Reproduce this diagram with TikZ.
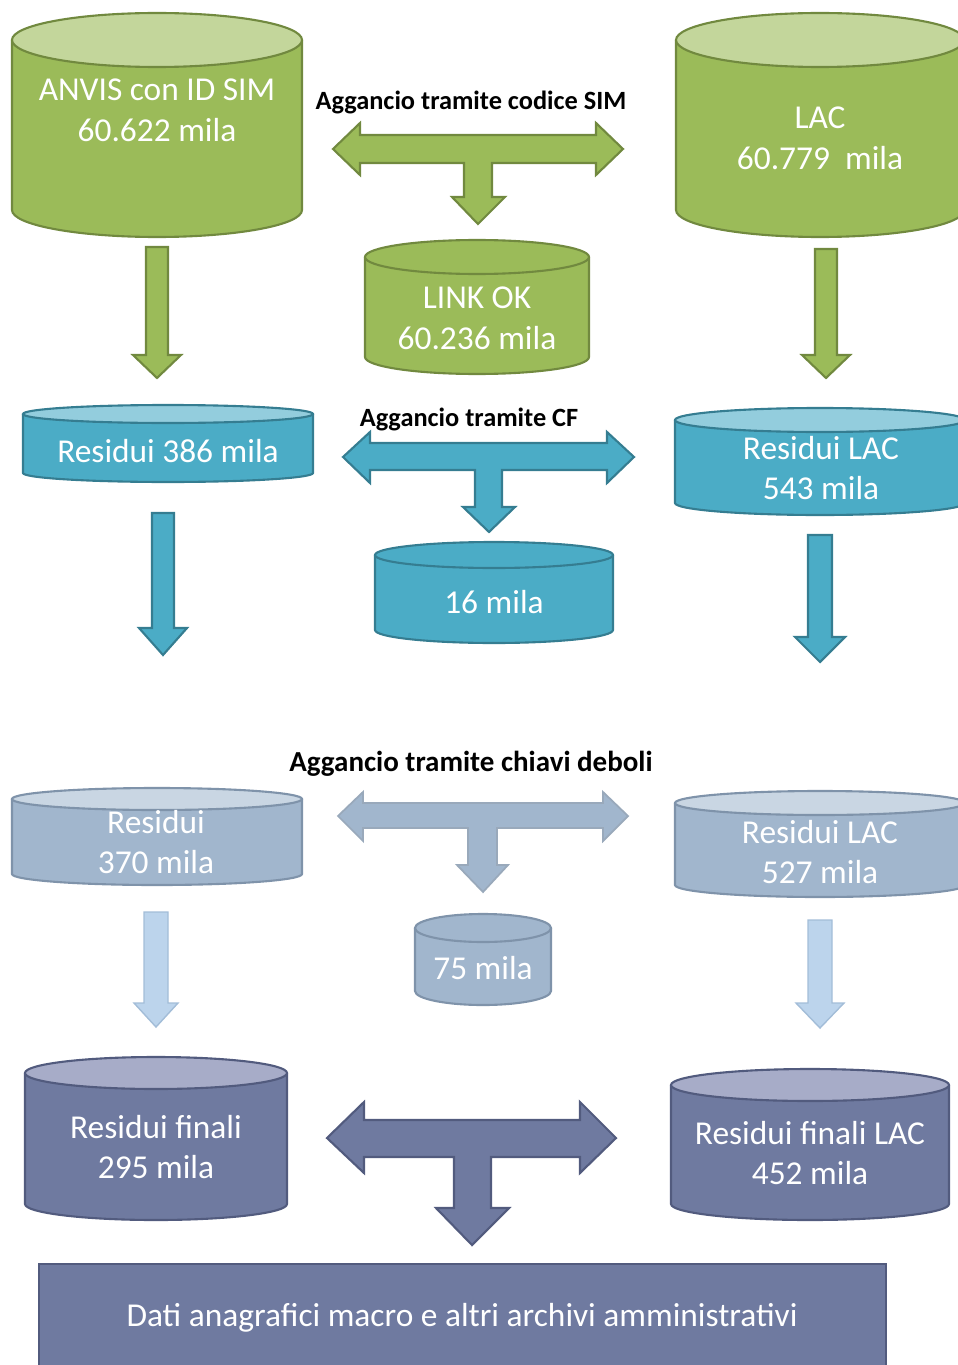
\documentclass[tikz,border=0pt]{standalone}
\usepackage{fontspec}
\setmainfont{Carlito}

\definecolor{grfill}{HTML}{9BBB59}
\definecolor{grline}{HTML}{71893F}
\definecolor{grtop}{HTML}{C3D69B}
\definecolor{blfill}{HTML}{4BACC6}
\definecolor{blline}{HTML}{357D91}
\definecolor{bltop}{HTML}{93CDDD}
\definecolor{gyfill}{HTML}{A1B6CD}
\definecolor{gyline}{HTML}{7F93AA}
\definecolor{gytop}{HTML}{C9D6E3}
\definecolor{ltfill}{HTML}{BCD4EC}
\definecolor{ltline}{HTML}{A3BDD8}
\definecolor{dkfill}{HTML}{6F7AA0}
\definecolor{dkline}{HTML}{525B7E}
\definecolor{dktop}{HTML}{A7ACC8}

% cylinder: cx, y top, y bottom, rx, ry, body, top, border
\newcommand{\dbcyl}[8]{%
  \fill[#6] (#1-#4,#2) rectangle (#1+#4,#3);
  \fill[#6] (#1,#3) ellipse [x radius=#4, y radius=#5];
  \draw[#8, line width=1.2pt] (#1-#4,#2) -- (#1-#4,#3) arc [start angle=180, end angle=0, x radius=#4, y radius=#5] -- (#1+#4,#2);
  \draw[#8, line width=1.2pt, fill=#7] (#1,#2) ellipse [x radius=#4, y radius=#5];
}
% block arrow down: cx, y top, y head, y tip, shaft half, head half
\newcommand{\dnarrow}[7]{%
  \draw[#7] (#1-#5,#2) -- (#1+#5,#2) -- (#1+#5,#3) -- (#1+#6,#3) -- (#1,#4) -- (#1-#6,#3) -- (#1-#5,#3) -- cycle;
}

\tikzset{
  db/.style={font=\fontsize{19}{23.2}\selectfont, text=white, align=center, inner sep=0pt},
  hook/.style={font=\bfseries\fontsize{15}{18}\selectfont, inner sep=0pt},
  greenarrow/.style={fill=grfill, draw=grline, line width=1.2pt},
  bluearrow/.style={fill=blfill, draw=blline, line width=1.2pt},
  greyarrow/.style={fill=gyfill, draw=gyline!80, line width=1pt},
  lightarrow/.style={fill=ltfill, draw=ltline, line width=0.8pt},
  darkarrow/.style={fill=dkfill, draw=dkline, line width=1.2pt}
}

\begin{document}
\begin{tikzpicture}[x=0.02cm, y=-0.02cm]
    \useasboundingbox (0,0) rectangle (957,1365);

    % green row
    \dbcyl{157}{40}{210}{145}{27}{grfill}{grtop}{grline}
    \dbcyl{820}{40}{210}{144}{27}{grfill}{grtop}{grline}
    \dbcyl{477}{257}{357}{112}{17}{grfill}{grfill}{grline}
    \node[db] (anvis) at (157,110) {ANVIS con ID SIM\\60.622 mila};
    \node[db] (lac) at (820,138) {LAC\\60.779\ \ mila};
    \node[db] (linkok) at (477,318) {LINK OK\\60.236 mila};
    \node[hook] (simlbl) at (471,102) {Aggancio tramite codice SIM};
    \draw[greenarrow] (333,149) -- (360,123) -- (360,135) -- (596,135) -- (596,123) -- (623,149) -- (596,175) -- (596,163) -- (492,163) -- (492,197) -- (505,197) -- (478,224) -- (452,197) -- (464,197) -- (464,163) -- (360,163) -- (360,175) -- cycle;
    \dnarrow{157}{247}{355}{378}{11}{24}{greenarrow}
    \dnarrow{826}{249}{355}{378}{11}{24}{greenarrow}

    % blue row
    \dbcyl{168}{414}{473}{145}{9}{blfill}{bltop}{blline}
    \dbcyl{820}{420}{503}{145}{12}{blfill}{bltop}{blline}
    \dbcyl{494}{555}{630}{119}{13}{blfill}{blfill}{blline}
    \node[db] (res386) at (168,451) {Residui 386 mila};
    \node[db] (res543) at (821,468) {Residui LAC\\543 mila};
    \node[db] (m16) at (494,602) {16 mila};
    \node[hook] (cflbl) at (469,419) {Aggancio tramite CF};
    \draw[bluearrow] (343,457) -- (370,432) -- (370,443) -- (607,443) -- (607,432) -- (634,457) -- (607,483) -- (607,470) -- (502,470) -- (502,507) -- (515,507) -- (489,532) -- (463,507) -- (475,507) -- (475,470) -- (370,470) -- (370,483) -- cycle;
    \dnarrow{163}{513}{628}{655}{11}{24}{bluearrow}
    \dnarrow{820}{535}{637}{662}{12}{25}{bluearrow}

    % grey row
    \dbcyl{157}{799}{874}{145}{11}{gyfill}{gytop}{gyline}
    \dbcyl{820}{803}{885}{145}{12}{gyfill}{gytop}{gyline}
    \dbcyl{483}{928}{991}{68}{14}{gyfill}{gyfill}{gyline}
    \node[db] (res370) at (156,842) {Residui\\370 mila};
    \node[db] (res527) at (820,852) {Residui LAC\\527 mila};
    \node[db] (m75) at (483,968) {75 mila};
    \node[hook, font=\bfseries\fontsize{16.5}{19}\selectfont] (deblbl) at (471,764) {Aggancio tramite chiavi deboli};
    \draw[greyarrow] (338,816) -- (363,792) -- (363,803) -- (603,803) -- (603,792) -- (628,816) -- (603,841) -- (603,828) -- (497,828) -- (497,865) -- (508,865) -- (483,892) -- (457,865) -- (468,865) -- (468,828) -- (363,828) -- (363,841) -- cycle;
    \dnarrow{156}{912}{1003}{1027}{12}{22}{lightarrow}
    \dnarrow{820}{920}{1003}{1028}{12}{24}{lightarrow}

    % dark row
    \dbcyl{156}{1073}{1204}{131}{16}{dkfill}{dktop}{dkline}
    \dbcyl{810}{1085}{1204}{139}{16}{dkfill}{dktop}{dkline}
    \node[db] (fin295) at (156,1147) {Residui finali\\295 mila};
    \node[db] (fin452) at (810,1153) {Residui finali LAC\\452 mila};
    \draw[darkarrow] (327,1138) -- (364,1102) -- (364,1120) -- (580,1120) -- (580,1102) -- (616,1138) -- (580,1173) -- (580,1157) -- (491,1157) -- (491,1208) -- (509,1208) -- (472,1245) -- (436,1208) -- (454,1208) -- (454,1157) -- (364,1157) -- (364,1173) -- cycle;
    \draw[fill=dkfill, draw=dkline, line width=1.2pt] (39,1264) rectangle (886,1380);
    \node[db] (dati) at (462,1318) {Dati anagrafici macro e altri archivi amministrativi};
\end{tikzpicture}
\end{document}
